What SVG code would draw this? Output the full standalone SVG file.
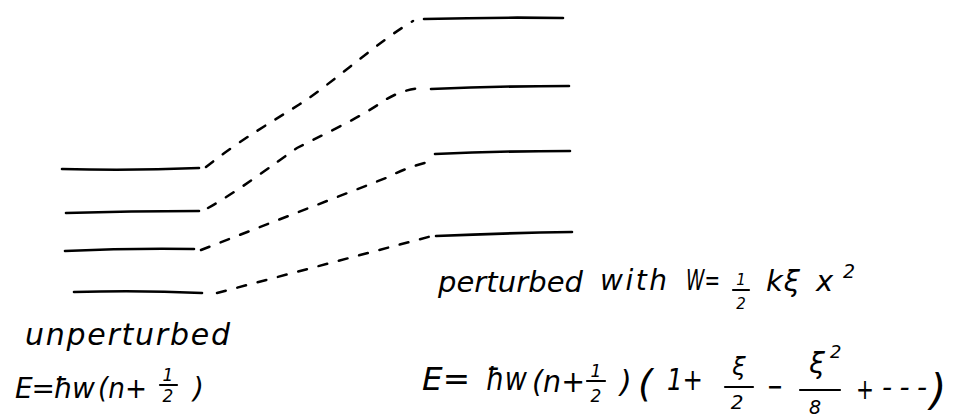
<svg xmlns="http://www.w3.org/2000/svg" width="964" height="419" viewBox="0 0 964 419">
<style>
.lvl{fill:none;stroke:#000;stroke-width:2.6;stroke-linecap:round}
.dash{fill:none;stroke:#000;stroke-width:2.5;stroke-linecap:round;stroke-dasharray:9 12}
.t{font-family:"DejaVu Sans",sans-serif;font-style:italic;fill:#000}
.c{text-anchor:middle}
.bar{stroke:#000;stroke-width:2.2;stroke-linecap:round}
</style>
<rect width="964" height="419" fill="#fff"/>
<g id="unperturbed-levels">
<path class="lvl" d="M62,169 Q130,171 199,168"/>
<path class="lvl" d="M66,213 Q130,211 199,211"/>
<path class="lvl" d="M65,251 Q130,248 194,249"/>
<path class="lvl" d="M74,292 Q140,290 202,293"/>
</g>
<g id="perturbed-levels">
<path class="lvl" d="M424,19 Q495,17 563,18"/>
<path class="lvl" d="M431,89 Q500,86 569,86"/>
<path class="lvl" d="M435,154 Q500,151 570,151"/>
<path class="lvl" d="M436,236 Q505,233 572,232"/>
</g>
<g id="connectors">
<path class="dash" d="M206,167 C240,140 270,123 300,104 S380,40 413,21"/>
<path class="dash" d="M208,208 C240,190 275,163 297,148 C320,136 360,118 385,100 Q405,88 425,88"/>
<path class="dash" d="M201,250 L386,178 Q405,168 428,162"/>
<path class="dash" d="M217,293 L432,236"/>
</g>
<g id="label-unperturbed">
<text class="t" x="25" y="345" font-size="30" textLength="205" lengthAdjust="spacing">unperturbed</text>
<text class="t" x="15" y="398" font-size="28" textLength="80" lengthAdjust="spacing">E=ħw</text>
<text class="t" x="98" y="398" font-size="28" textLength="49" lengthAdjust="spacingAndGlyphs">(n+</text>
<text class="t c" x="168" y="381" font-size="17">1</text>
<line class="bar" x1="160" y1="385" x2="177" y2="385"/>
<text class="t c" x="168" y="402" font-size="17">2</text>
<text class="t" x="193" y="398" font-size="28">)</text>
</g>
<g id="label-perturbed">
<text class="t" x="438" y="292" font-size="29" textLength="145" lengthAdjust="spacing">perturbed</text>
<text class="t" x="600" y="290" font-size="28" textLength="67" lengthAdjust="spacing">with</text>
<text class="t" x="686" y="290" font-size="28" textLength="34" lengthAdjust="spacingAndGlyphs">W=</text>
<text class="t c" x="741" y="285" font-size="15">1</text>
<line class="bar" x1="733" y1="290" x2="749" y2="290"/>
<text class="t c" x="741" y="309" font-size="15">2</text>
<text class="t" x="766" y="291" font-size="29" textLength="34" lengthAdjust="spacing">kξ</text>
<text class="t" x="816" y="291" font-size="29">x</text>
<text class="t" x="843" y="278" font-size="19">2</text>
</g>
<g id="formula-perturbed">
<text class="t" x="422" y="390" font-size="32" textLength="48" lengthAdjust="spacingAndGlyphs">E=</text>
<text class="t" x="486" y="390" font-size="32" textLength="41" lengthAdjust="spacingAndGlyphs">ħw</text>
<text class="t" x="532" y="392" font-size="30" textLength="53" lengthAdjust="spacingAndGlyphs">(n+</text>
<text class="t c" x="596" y="377" font-size="17">1</text>
<line class="bar" x1="587" y1="381" x2="605" y2="381"/>
<text class="t c" x="596" y="402" font-size="17">2</text>
<text class="t" x="620" y="392" font-size="30">)</text>
<text class="t" x="638" y="396" font-size="38">(</text>
<text class="t" x="667" y="390" font-size="30" textLength="36" lengthAdjust="spacingAndGlyphs">1+</text>
<text class="t c" x="739" y="375" font-size="24">ξ</text>
<line class="bar" x1="725" y1="387" x2="753" y2="387"/>
<text class="t c" x="737" y="409" font-size="20">2</text>
<text class="t" x="767" y="396" font-size="28" textLength="16" lengthAdjust="spacingAndGlyphs">−</text>
<text class="t c" x="817" y="373" font-size="28">ξ</text>
<text class="t" x="830" y="358" font-size="18">2</text>
<line class="bar" x1="800" y1="390" x2="840" y2="390"/>
<text class="t c" x="815" y="414" font-size="19">8</text>
<text class="t" x="856" y="399" font-size="28" textLength="18" lengthAdjust="spacingAndGlyphs">+</text>
<text class="t" x="882" y="397" font-size="28" textLength="45" lengthAdjust="spacing">---</text>
<text class="t" x="930" y="405" font-size="42">)</text>
</g>
</svg>
